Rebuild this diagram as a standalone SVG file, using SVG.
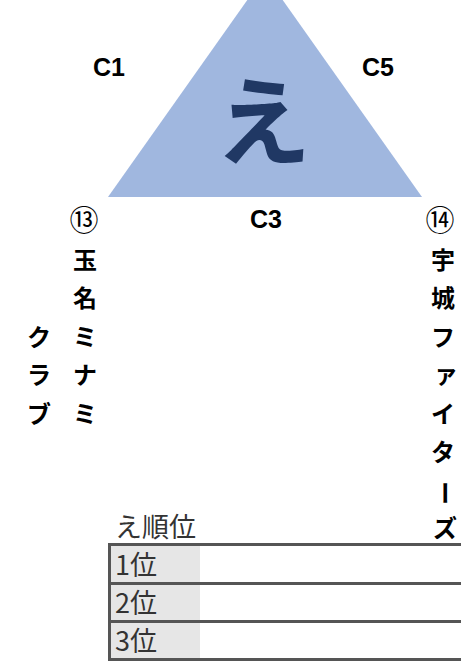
<svg xmlns="http://www.w3.org/2000/svg" width="461" height="664" viewBox="0 0 461 664">
<style>
.jp{font-family:"Noto Sans CJK JP","Noto Sans",sans-serif}
.lbl{font-family:"Liberation Sans",Arial,sans-serif;font-weight:bold;font-size:25px;fill:#000}
.vt{font-family:"Noto Sans CJK JP",sans-serif;font-weight:bold;font-size:24px;fill:#000;text-anchor:middle;dominant-baseline:central}
.num{font-family:"Noto Sans CJK JP",sans-serif;font-size:29px;fill:#000;text-anchor:middle;dominant-baseline:central}
.cell{font-family:"Noto Sans CJK JP",sans-serif;font-size:27px;fill:#333}
</style>
<g id="triangle">
<polygon points="265,-25 108,197 422,197" fill="#A0B7DF"/>
<text x="263" y="157" class="jp" font-size="96" font-weight="bold" fill="#203864" text-anchor="middle">え</text>
</g>
<g id="labels">
<text x="93" y="76" class="lbl">C1</text>
<text x="362" y="76" class="lbl">C5</text>
<text x="250" y="228" class="lbl">C3</text>
</g>
<g id="team13">
<text x="84" y="218" class="num">⑬</text>
<text x="85" y="258" class="vt">玉</text>
<text x="85" y="296.5" class="vt">名</text>
<text x="85" y="335" class="vt">ミ</text>
<text x="85" y="373.5" class="vt">ナ</text>
<text x="85" y="412" class="vt">ミ</text>
<text x="39" y="335" class="vt">ク</text>
<text x="39" y="373.5" class="vt">ラ</text>
<text x="39" y="412" class="vt">ブ</text>
</g>
<g id="team14">
<text x="440" y="218" class="num">⑭</text>
<text x="443" y="258" class="vt">宇</text>
<text x="443" y="296.5" class="vt">城</text>
<text x="443" y="335" class="vt">フ</text>
<text x="446" y="372" class="vt">ァ</text>
<text x="443" y="412" class="vt">イ</text>
<text x="443" y="450.5" class="vt">タ</text>
<text x="446" y="493" class="vt" font-weight="normal" transform="rotate(90 446 493)">ー</text>
<text x="445" y="526" class="vt">ズ</text>
</g>
<g id="ranking">
<text x="115" y="537" class="cell" font-size="29">え順位</text>
<rect x="111" y="545" width="89" height="114" fill="#E6E6E6"/>
<g stroke="#555" stroke-width="3" fill="none">
<rect x="109.5" y="544.5" width="360" height="115"/>
<line x1="109.5" y1="583.5" x2="470" y2="583.5"/>
<line x1="109.5" y1="621.5" x2="470" y2="621.5"/>
</g>
<text x="115" y="575" class="cell">1位</text>
<text x="115" y="613" class="cell">2位</text>
<text x="115" y="651" class="cell">3位</text>
</g>
</svg>
